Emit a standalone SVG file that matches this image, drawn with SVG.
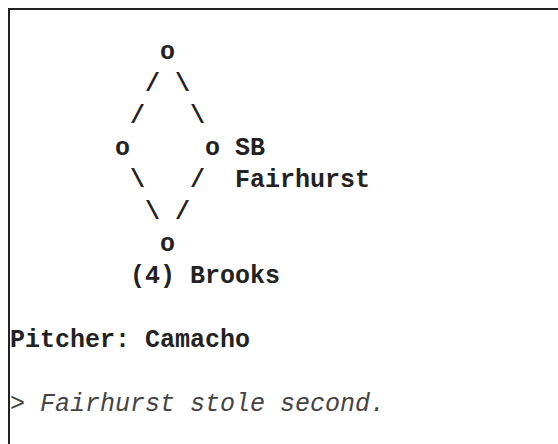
<svg xmlns="http://www.w3.org/2000/svg" width="558" height="444" viewBox="0 0 558 444">
<style>
.t{font-family:"Liberation Mono","Courier New",monospace;font-size:25px;font-weight:bold;fill:#222}
.i{font-family:"Liberation Mono","Courier New",monospace;font-size:25px;font-style:italic;fill:#444}
</style>
<rect x="0" y="0" width="558" height="444" fill="#fff"/>
<rect id="frame" x="9" y="9" width="600" height="500" fill="none" stroke="#222" stroke-width="2"/>
<g id="bases">
<g id="second"><text class="t" x="160" y="59">o</text></g>
<g id="third"><text class="t" x="115" y="155">o</text></g>
<g id="first"><text class="t" x="205" y="155">o</text><text class="t" x="235" y="155">SB</text><text class="t" x="235" y="187">Fairhurst</text></g>
<g id="home"><text class="t" x="160" y="251">o</text><text class="t" x="130" y="283">(4) Brooks</text></g>
</g>
<g id="connectors">
<text class="t" x="145" y="91">/</text><text class="t" x="175" y="91">\</text>
<text class="t" x="130" y="123">/</text><text class="t" x="190" y="123">\</text>
<text class="t" x="130" y="187">\</text><text class="t" x="190" y="187">/</text>
<text class="t" x="145" y="219">\</text><text class="t" x="175" y="219">/</text>
</g>
<g id="info">
<text class="t" x="10" y="347">Pitcher: Camacho</text>
<text class="i" x="10" y="411">&gt; Fairhurst stole second.</text>
</g>
</svg>
